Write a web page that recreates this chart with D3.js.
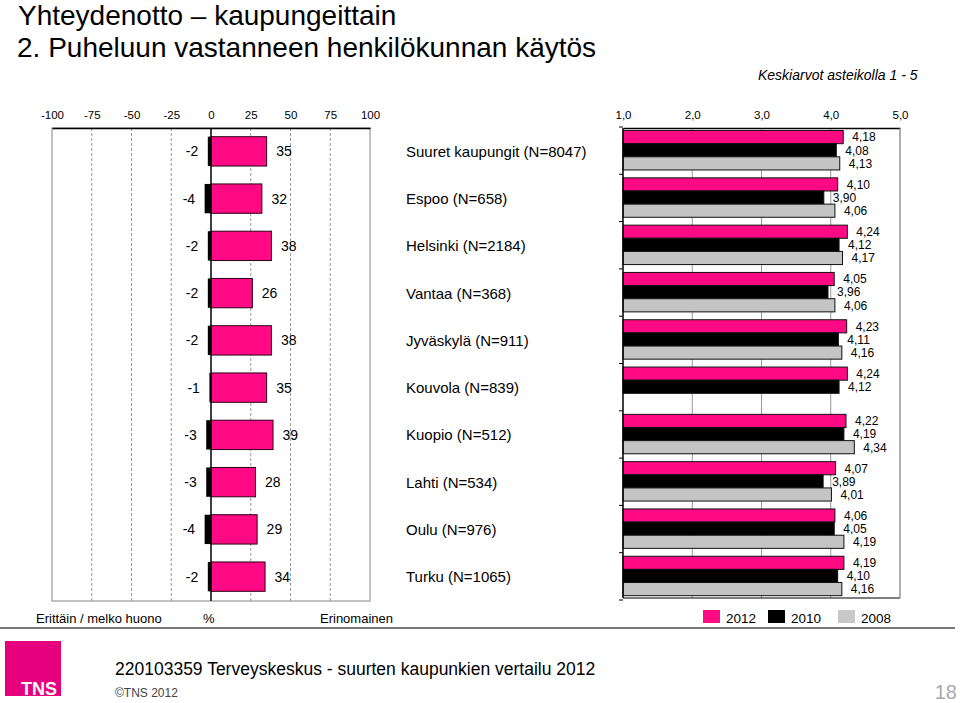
<!DOCTYPE html>
<html>
<head>
<meta charset="utf-8">
<script src="https://cdn.jsdelivr.net/npm/d3@7"></script>
<style>
html,body{margin:0;padding:0;background:#fff;}
svg{display:block;font-family:"Liberation Sans",Arial,sans-serif;}
</style>
</head>
<body>
<svg id="chart" width="960" height="703"></svg>
<script>
const categories = ["Suuret kaupungit (N=8047)","Espoo (N=658)","Helsinki (N=2184)","Vantaa (N=368)","Jyväskylä (N=911)","Kouvola (N=839)","Kuopio (N=512)","Lahti (N=534)","Oulu (N=976)","Turku (N=1065)"];
const poorShare = [-2,-4,-2,-2,-2,-1,-3,-3,-4,-2];
const excellentShare = [35,32,38,26,38,35,39,28,29,34];
const years = ["2012","2010","2008"];
const mean2012 = [4.18,4.10,4.24,4.05,4.23,4.24,4.22,4.07,4.06,4.19];
const mean2010 = [4.08,3.90,4.12,3.96,4.11,4.12,4.19,3.89,4.05,4.10];
const mean2008 = [4.13,4.06,4.17,4.06,4.16,null,4.34,4.01,4.19,4.16];
const leftTicks = [-100,-75,-50,-25,0,25,50,75,100];
const rightTicks = [1,2,3,4,5];

const PINK = "#FF0A84", BLACK = "#000", GRAY = "#C4C4C4";
const yearColors = {"2012":PINK,"2010":BLACK,"2008":GRAY};
const series = {"2012":mean2012,"2010":mean2010,"2008":mean2008};
const fmt = v => d3.format(".2f")(v).replace(".", ",");

const svg = d3.select("#chart");

// Titles
svg.append("text").attr("x",18).attr("y",25).attr("font-size",28).attr("fill","#000").text("Yhteydenotto – kaupungeittain");
svg.append("text").attr("x",17).attr("y",57).attr("font-size",28).attr("fill","#000").text("2. Puheluun vastanneen henkilökunnan käytös");
svg.append("text").attr("x",758).attr("y",80).attr("font-size",14).attr("font-style","italic").attr("fill","#000").text("Keskiarvot asteikolla 1 - 5");

// ---------- Left panel ----------
const L = {x0:52, x1:370, y0:128, y1:601};
const xL = d3.scaleLinear().domain([-100,100]).range([L.x0,L.x1]);
const yL = d3.scaleBand().domain(categories).range([128,600]).paddingInner(0.379).paddingOuter(0.184);

const gL = svg.append("g");
gL.selectAll("line.grid").data(leftTicks.filter(t=>t!==0 && Math.abs(t)!==100)).join("line")
  .attr("x1",d=>xL(d)).attr("x2",d=>xL(d)).attr("y1",L.y0).attr("y2",L.y1)
  .attr("stroke","#999").attr("stroke-dasharray","3,2").attr("stroke-width",1);
gL.append("rect").attr("x",L.x0).attr("y",L.y0).attr("width",L.x1-L.x0).attr("height",L.y1-L.y0)
  .attr("fill","none").attr("stroke","#999").attr("stroke-width",1.2);
const axL = d3.axisTop(xL).tickValues(leftTicks).tickSize(0).tickPadding(9).tickFormat(d=>d);
const axLG = gL.append("g").attr("transform",`translate(0,${L.y0})`).call(axL);
axLG.select(".domain").attr("stroke","#000").attr("stroke-width",1.5);
axLG.selectAll("text").attr("font-size",11.5).attr("font-family","Liberation Sans, Arial, sans-serif").attr("fill","#000");

gL.selectAll("rect.pos").data(categories).join("rect")
  .attr("x",xL(0)).attr("y",d=>yL(d)).attr("width",(d,i)=>xL(excellentShare[i])-xL(0)).attr("height",yL.bandwidth())
  .attr("fill",PINK).attr("stroke","#2a0015").attr("stroke-width",1);
gL.selectAll("rect.neg").data(categories).join("rect")
  .attr("x",(d,i)=>xL(poorShare[i])).attr("y",d=>yL(d)).attr("width",(d,i)=>xL(0)-xL(poorShare[i])).attr("height",yL.bandwidth())
  .attr("fill","#000");
gL.append("line").attr("x1",xL(0)).attr("x2",xL(0)).attr("y1",L.y0).attr("y2",L.y1).attr("stroke","#000").attr("stroke-width",1.5);
gL.selectAll("text.pl").data(categories).join("text")
  .attr("x",(d,i)=>xL(excellentShare[i])+9.5).attr("y",d=>yL(d)+yL.bandwidth()/2).attr("dy","0.36em")
  .attr("font-size",14).attr("fill","#000").text((d,i)=>excellentShare[i]);
gL.selectAll("text.nl").data(categories).join("text")
  .attr("x",(d,i)=>xL(poorShare[i])-9.5).attr("y",d=>yL(d)+yL.bandwidth()/2).attr("dy","0.36em")
  .attr("text-anchor","end").attr("font-size",14).attr("fill","#000").text((d,i)=>poorShare[i]);

svg.selectAll("text.cat").data(categories).join("text")
  .attr("x",406).attr("y",d=>yL(d)+yL.bandwidth()/2).attr("dy","0.36em")
  .attr("font-size",15).attr("fill","#000").text(d=>d);

// ---------- Right panel ----------
const R = {x0:623, x1:900, y0:128, y1:598};
const xR = d3.scaleLinear().domain([1,5]).range([R.x0,R.x1]);
const yR = d3.scaleBand().domain(categories).range([127,600]);
const yIn = d3.scaleBand().domain(years).range([0,yR.step()]).paddingInner(0).paddingOuter(0.3).align(0.45);

const gR = svg.append("g");
gR.selectAll("line.grid").data(rightTicks.slice(1)).join("line")
  .attr("x1",d=>xR(d)).attr("x2",d=>xR(d)).attr("y1",R.y0).attr("y2",R.y1)
  .attr("stroke","#999").attr("stroke-width",1);
const axR = d3.axisTop(xR).tickValues(rightTicks).tickSize(0).tickPadding(9).tickFormat(d=>d3.format(".1f")(d).replace(".",","));
const axRG = gR.append("g").attr("transform",`translate(0,${R.y0})`).call(axR);
axRG.select(".domain").attr("stroke","#000").attr("stroke-width",1.5);
axRG.selectAll("text").attr("font-size",11.5).attr("font-family","Liberation Sans, Arial, sans-serif").attr("fill","#000");
gR.append("line").attr("x1",R.x0).attr("x2",R.x1).attr("y1",R.y1).attr("y2",R.y1).attr("stroke","#000").attr("stroke-width",1.2);

const flat = [];
categories.forEach((c,i)=>years.forEach(y=>{ const v = series[y][i]; if (v!=null) flat.push({c,y,v}); }));
gR.selectAll("rect.bar").data(flat).join("rect")
  .attr("x",xR(1)).attr("y",d=>yR(d.c)+yIn(d.y)).attr("width",d=>xR(d.v)-xR(1)).attr("height",yIn.bandwidth())
  .attr("fill",d=>yearColors[d.y]).attr("stroke","#111").attr("stroke-width",1);
gR.selectAll("text.val").data(flat).join("text")
  .attr("x",d=>xR(d.v)+9).attr("y",d=>yR(d.c)+yIn(d.y)+yIn.bandwidth()/2).attr("dy","0.36em")
  .attr("font-size",12).attr("fill","#000").text(d=>fmt(d.v));

gR.append("line").attr("x1",R.x0).attr("x2",R.x0).attr("y1",R.y0).attr("y2",R.y1).attr("stroke","#000").attr("stroke-width",1.5);
gR.selectAll("line.tk").data(categories.concat([null])).join("line")
  .attr("x1",R.x0-4).attr("x2",R.x0).attr("y1",(d,i)=>127+i*yR.step()).attr("y2",(d,i)=>127+i*yR.step())
  .attr("stroke","#000").attr("stroke-width",1);
gR.append("line").attr("x1",R.x1).attr("x2",R.x1).attr("y1",R.y0).attr("y2",R.y1).attr("stroke","#999").attr("stroke-width",1.2);

// ---------- Legend ----------
svg.append("text").attr("x",36).attr("y",623).attr("font-size",13).text("Erittäin / melko huono");
svg.append("text").attr("x",203).attr("y",623).attr("font-size",13).text("%");
svg.append("text").attr("x",320).attr("y",623).attr("font-size",13).text("Erinomainen");
const legX = [703,768,838];
const leg = svg.selectAll("g.leg").data(years).join("g").attr("transform",(d,i)=>`translate(${legX[i]},610)`);
leg.append("rect").attr("width",17).attr("height",13).attr("fill",d=>d==="2008"?"#C8C8C8":yearColors[d]);
leg.append("text").attr("x",23).attr("y",13).attr("font-size",13.5).text(d=>d);

svg.append("line").attr("x1",0).attr("x2",955).attr("y1",628).attr("y2",628).attr("stroke","#777").attr("stroke-width",2);

// ---------- Footer ----------
svg.append("rect").attr("x",5).attr("y",641).attr("width",56).attr("height",55).attr("fill","#E6007E");
svg.append("text").attr("x",57).attr("y",695).attr("text-anchor","end").attr("font-size",18).attr("font-weight","bold").attr("fill","#fff").text("TNS");
svg.append("text").attr("x",115).attr("y",675).attr("font-size",17.5).attr("fill","#000").text("220103359 Terveyskeskus - suurten kaupunkien vertailu 2012");
svg.append("text").attr("x",115).attr("y",697).attr("font-size",12).attr("fill","#444").text("©TNS 2012");
svg.append("text").attr("x",957).attr("y",699).attr("text-anchor","end").attr("font-size",20).attr("fill","#aaa").text("18");
</script>
</body>
</html>
